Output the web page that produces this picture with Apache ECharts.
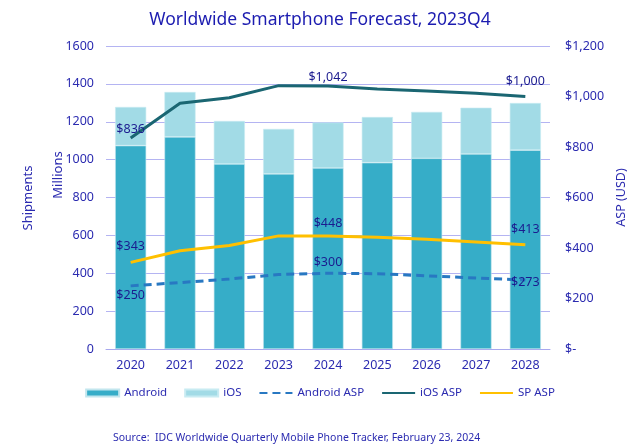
<!DOCTYPE html>
<html>
<head>
<meta charset="utf-8">
<script src="https://cdn.jsdelivr.net/npm/echarts@6/dist/echarts.min.js"></script>
<style>html,body{margin:0;padding:0;background:#fff}#c{width:640px;height:444px}</style>
</head>
<body>
<div id="c"></div>
<script>
const years = ['2020','2021','2022','2023','2024','2025','2026','2027','2028'];
const android = [1074, 1120, 977, 925, 956, 984, 1007, 1030, 1050];
const ios = [204, 237, 227, 237, 240, 241, 245, 244, 249];
const androidAsp = [250, 263, 277, 295, 300, 298, 290, 281, 273];
const iosAsp = [836, 973, 995, 1043, 1042, 1030, 1022, 1013, 1000];
const spAsp = [343, 389, 410, 448, 448, 443, 435, 424, 413];

const FONT = 'Noto Sans';
const TXT = '#2b2bb0';
const LBL = '#1b1b8f';

function fmtUsd(v) {
  if (v === 0) return '$-';
  return '$' + v.toLocaleString('en-US');
}
function labeled(arr, cfg) {
  return arr.map((v, i) => {
    if (cfg[i]) {
      return { value: v, label: Object.assign({ show: true, formatter: fmtUsd(v), color: LBL, fontSize: 12.5, fontFamily: FONT }, cfg[i]) };
    }
    return v;
  });
}

const chart = echarts.init(document.getElementById('c'));
chart.setOption({
  animation: false,
  textStyle: { fontFamily: FONT },
  title: {
    text: 'Worldwide Smartphone Forecast, 2023Q4',
    left: 'center', top: 6,
    textStyle: { color: '#1c1cb0', fontSize: 17.5, fontWeight: 'normal', fontFamily: FONT }
  },
  grid: { left: 106, right: 90, top: 46, bottom: 95 },
  legend: {
    bottom: 40, left: 'center',
    itemWidth: 33, itemHeight: 7, itemGap: 17,
    textStyle: { color: TXT, fontSize: 11.5, fontFamily: FONT },
    data: [
      { name: 'Android', icon: 'rect' },
      { name: 'iOS', icon: 'rect' },
      { name: 'Android ASP', itemStyle: { opacity: 0 } },
      { name: 'iOS ASP', itemStyle: { opacity: 0 } },
      { name: 'SP ASP', itemStyle: { opacity: 0 } }
    ]
  },
  xAxis: {
    type: 'category', data: years,
    axisLine: { lineStyle: { color: '#a8a8ee', width: 1 } },
    axisTick: { show: false },
    axisLabel: { color: TXT, fontSize: 12.5, margin: 10, fontFamily: FONT }
  },
  yAxis: [
    {
      type: 'value', min: 0, max: 1600, interval: 200,
      axisLabel: { color: TXT, fontSize: 12.5, margin: 12, fontFamily: FONT, formatter: v => String(v) },
      splitLine: { lineStyle: { color: '#b4b4f2', width: 1 } },
      axisLine: { show: false }, axisTick: { show: false }
    },
    {
      type: 'value', min: 0, max: 1200, interval: 200,
      name: 'ASP (USD)', nameLocation: 'middle', nameRotate: 90, nameGap: 57,
      nameTextStyle: { color: TXT, fontSize: 12.5, fontFamily: FONT },
      axisLabel: { color: TXT, fontSize: 12.5, margin: 15, fontFamily: FONT, formatter: fmtUsd },
      splitLine: { show: false },
      axisLine: { show: false }, axisTick: { show: false }
    }
  ],
  graphic: [
    { type: 'text', x: 28, y: 198, rotation: Math.PI / 2, style: { text: 'Shipments', fill: TXT, fontSize: 13, fontFamily: FONT, align: 'center', verticalAlign: 'middle' } },
    { type: 'text', x: 58, y: 175, rotation: Math.PI / 2, style: { text: 'Millions', fill: TXT, fontSize: 13, fontFamily: FONT, align: 'center', verticalAlign: 'middle' } },
    { type: 'text', style: { text: 'Source:  IDC Worldwide Quarterly Mobile Phone Tracker, February 23, 2024', fill: TXT, fontSize: 10.5, fontFamily: FONT }, left: 113, top: 433 }
  ],
  series: [
    {
      name: 'Android', type: 'bar', stack: 'u', data: android, barWidth: '63%',
      itemStyle: { color: '#36adc8', borderColor: '#c2e6ee', borderWidth: 0.6 }
    },
    {
      name: 'iOS', type: 'bar', stack: 'u', data: ios,
      itemStyle: { color: '#a2dbe6', borderColor: '#c8ebf2', borderWidth: 0.6 }
    },
    {
      name: 'Android ASP', type: 'line', yAxisIndex: 1, symbol: 'circle', symbolSize: 0, showSymbol: true,
      lineStyle: { color: '#2878c2', width: 3, type: [8, 5] },
      itemStyle: { color: '#2878c2' },
      data: labeled(androidAsp, { 0: { position: 'bottom', distance: 3 }, 4: { position: 'top', distance: 4 }, 8: { position: 'bottom', distance: -4 } })
    },
    {
      name: 'iOS ASP', type: 'line', yAxisIndex: 1, symbol: 'circle', symbolSize: 0, showSymbol: true,
      lineStyle: { color: '#1a6672', width: 3 },
      itemStyle: { color: '#1a6672' },
      data: labeled(iosAsp, { 0: { position: 'top', distance: 2 }, 4: { position: 'top', distance: 2 }, 8: { position: 'top', distance: 9 } })
    },
    {
      name: 'SP ASP', type: 'line', yAxisIndex: 1, symbol: 'circle', symbolSize: 0, showSymbol: true,
      lineStyle: { color: '#ffc000', width: 3 },
      itemStyle: { color: '#ffc000' },
      data: labeled(spAsp, { 0: { position: 'top', distance: 9 }, 4: { position: 'top', distance: 6 }, 8: { position: 'top', distance: 9 } })
    }
  ]
});
</script>
</body>
</html>
